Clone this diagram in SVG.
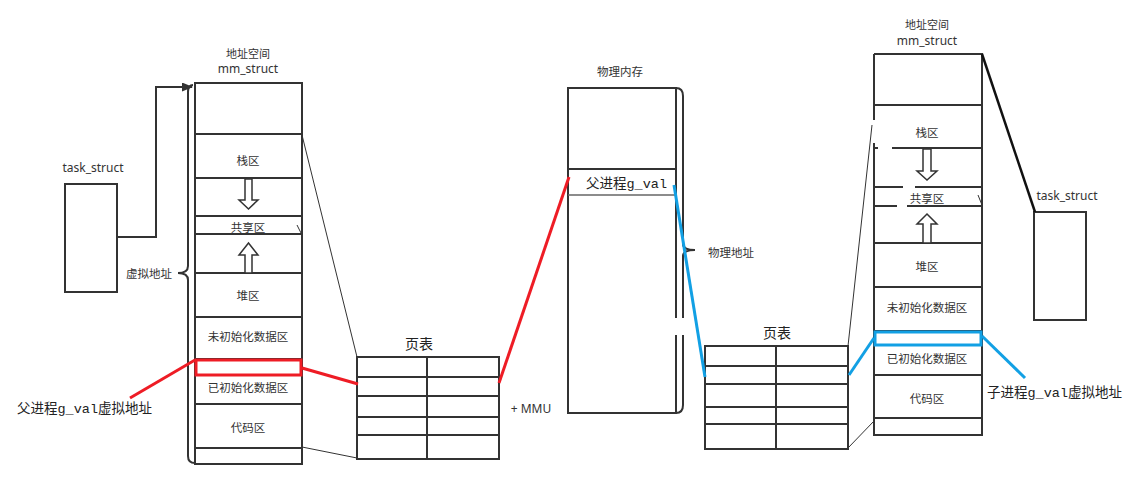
<svg xmlns="http://www.w3.org/2000/svg" width="1137" height="485" viewBox="0 0 1137 485">
<defs>
<style>
.bx{fill:#fff;stroke:#333;stroke-width:2}
.ln{stroke:#333;stroke-width:2;fill:none}
.thin{stroke:#333;stroke-width:1;fill:none}
.red{stroke:#ee1c25;stroke-width:3;fill:none}
.blue{stroke:#12a0e4;stroke-width:3;fill:none}
.t{font-family:"Noto Sans CJK SC","Noto Sans",sans-serif;font-size:11.5px;fill:#333;text-anchor:middle;dominant-baseline:central}
.hd{font-family:"Noto Sans CJK SC","Noto Sans",sans-serif;font-size:11px;fill:#333;text-anchor:middle}
.en{font-family:"Noto Sans","Noto Sans CJK SC",sans-serif;font-size:12px;fill:#333;text-anchor:middle;dominant-baseline:central}
.enb{font-family:"Noto Sans","Noto Sans CJK SC",sans-serif;font-size:12px;fill:#333;text-anchor:middle}
.big{font-family:"Noto Sans CJK SC",sans-serif;font-size:14px;fill:#222;text-anchor:middle;dominant-baseline:central}
.mono{font-family:"Liberation Mono","Noto Sans CJK SC",monospace;font-size:13.5px;fill:#222}
.harrow{fill:#fff;stroke:#333;stroke-width:1.5}
</style>
<marker id="ah" markerWidth="11" markerHeight="9" refX="10" refY="4.5" orient="auto" markerUnits="userSpaceOnUse">
<path d="M0,0 L11,4.5 L0,9 Z" fill="#333"/>
</marker>
</defs>
<rect width="1137" height="485" fill="#fff"/>

<!-- left task_struct -->
<g id="task_struct_left">
<rect class="bx" x="65" y="184" width="52" height="108"/>
<text class="en" x="93" y="167">task_struct</text>
</g>

<!-- left address space -->
<g id="addr_space_left">
<text class="hd" x="248" y="58">地址空间</text>
<text class="enb" x="248" y="73">mm_struct</text>
<rect class="bx" x="195" y="83" width="107" height="381"/>
<path class="ln" d="M195,134H302M195,178H302M195,216H302M195,234H302M195,273H302M195,317H302M195,359H302M195,404H302M195,448H302"/>
<text class="t" x="248" y="160">栈区</text>
<polygon class="harrow" points="245,179 252,179 252,200 258,200 248.5,209 239,200 245,200"/>
<text class="t" x="248" y="227">共享区</text>
<polygon class="harrow" points="248.5,243 258,255 252,255 252,273 245,273 245,255 239,255"/>
<text class="t" x="248" y="295">堆区</text>
<text class="t" x="248" y="336">未初始化数据区</text>
<text class="t" x="248" y="387">已初始化数据区</text>
<text class="t" x="248" y="427">代码区</text>
<path class="thin" d="M297,225L301,233"/>
<rect class="red" x="196" y="360" width="105" height="15" stroke-width="2.5"/>
</g>

<!-- brace virtual address -->
<g id="virt_brace">
<path class="ln" d="M193,85 Q188,85 188,92 L188,266 Q188,273 178,273 Q188,273 188,280 L188,456 Q188,463 195,463" stroke-width="1.5"/>
<text class="t" x="149" y="273">虚拟地址</text>
</g>

<!-- left label -->
<g id="label_parent">
<text class="mono" x="17" y="413">父进程g_val虚拟地址</text>
</g>

<!-- left page table -->
<g id="page_table_left">
<text class="big" x="419" y="343">页表</text>
<rect class="bx" x="357" y="357" width="142" height="102"/>
<path class="ln" d="M357,377H499M357,396H499M357,417H499M357,435H499"/>
<path class="ln" d="M427,357V459" stroke-width="3"/>
</g>

<!-- physical memory -->
<g id="phys_mem">
<text class="t" x="620" y="71">物理内存</text>
<rect class="bx" x="568" y="88" width="108" height="325"/>
<path class="ln" d="M568,169H676"/>
<path d="M568,195H676" stroke="#666" stroke-width="1.5"/>
<text class="mono" x="586" y="188">父进程g_val</text>
<path class="ln" d="M676,88 Q683,88 683,96 L683,244 Q683,250 695,250 Q683,250 683,256 L683,405 Q683,413 676,413" stroke-width="1.5"/>
<rect x="671" y="318" width="15" height="17" fill="#fff"/>
<text class="t" x="731" y="252">物理地址</text>
</g>

<text class="en" x="531" y="408" font-family="Liberation Sans, sans-serif">+ MMU</text>

<!-- right page table -->
<g id="page_table_right">
<text class="big" x="777" y="332">页表</text>
<rect class="bx" x="705" y="346" width="143" height="103"/>
<path class="ln" d="M705,366H848M705,384H848M705,407H848M705,424H848"/>
<path class="ln" d="M776,346V449" stroke-width="3"/>
</g>

<!-- right address space -->
<g id="addr_space_right">
<text class="hd" x="927" y="29">地址空间</text>
<text class="enb" x="927" y="45">mm_struct</text>
<rect x="874" y="54" width="108" height="381" fill="#fff"/>
<path class="ln" d="M874,54H982V435H874V143M874,120V54"/>
<path class="ln" d="M874,105H982M874,148H878M892,148H982M874,187H903M915,187H982M874,206H897M907,206H982M874,243H982M874,287H982M874,331H982M874,375H982M874,418H982"/>
<text class="t" x="927" y="132">栈区</text>
<polygon class="harrow" points="923,149 931,149 931,171 937,171 927,180 917,171 923,171"/>
<text class="t" x="927" y="198">共享区</text>
<polygon class="harrow" points="927,214 937,224 931,224 931,243 923,243 923,224 917,224"/>
<text class="t" x="927" y="266">堆区</text>
<text class="t" x="927" y="307">未初始化数据区</text>
<text class="t" x="927" y="358">已初始化数据区</text>
<text class="t" x="927" y="398">代码区</text>
<path class="thin" d="M978,195L982,205"/>
<rect class="blue" x="875" y="332" width="106" height="13" stroke-width="2.5"/>
</g>

<!-- right task_struct -->
<g id="task_struct_right">
<rect class="bx" x="1034" y="212" width="52" height="108"/>
<text class="en" x="1067" y="195">task_struct</text>
</g>

<g id="label_child">
<text class="mono" x="987" y="397">子进程g_val虚拟地址</text>
</g>

<!-- connectors -->
<g id="connectors">
<path class="ln" d="M117,237H156V87H192" marker-end="url(#ah)"/>
<path class="thin" d="M302,135L357,357"/>
<path class="thin" d="M302,447L357,458"/>
<path class="thin" d="M848,346L872,125"/>
<path class="thin" d="M848,448L874,421"/>
<path d="M982,54L1035,212" stroke="#111" stroke-width="2.5" fill="none"/>
<path class="red" d="M195,360L130,398"/>
<path class="red" d="M302,368L358,384"/>
<path class="red" d="M499,383L569,177"/>
<path class="blue" d="M674,185L705,377"/>
<path class="blue" d="M849,375L874,338"/>
<path class="blue" d="M982,336L1025,378"/>
</g>
</svg>
